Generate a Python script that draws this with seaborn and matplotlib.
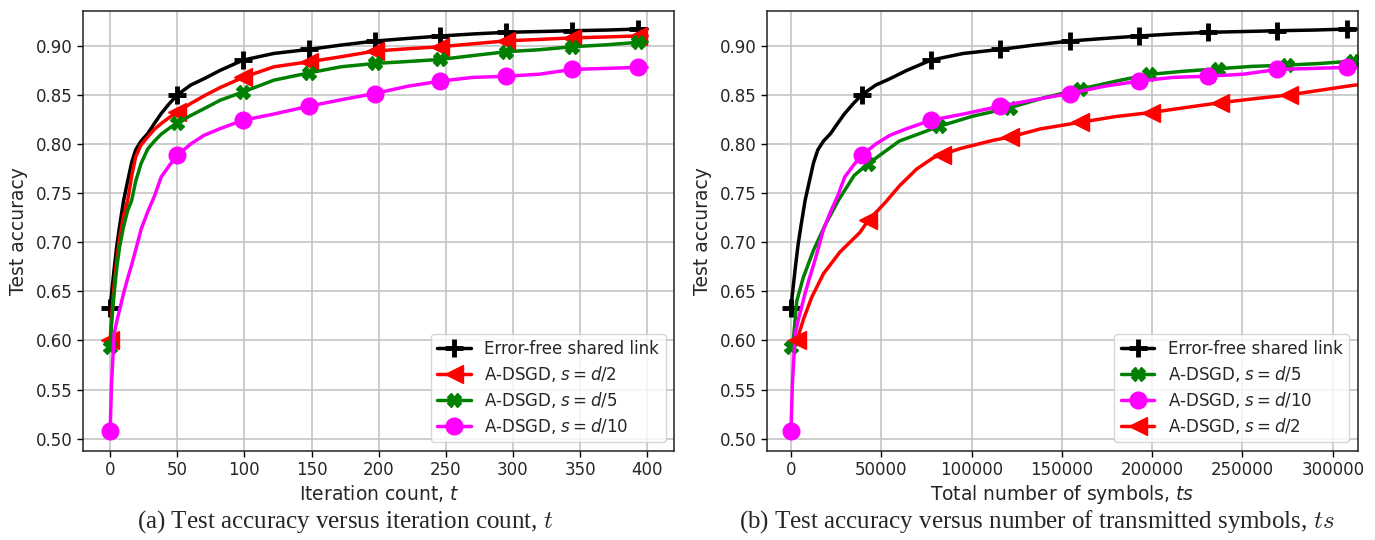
import matplotlib
matplotlib.use("Agg")
import matplotlib.pyplot as plt
import seaborn as sns

# ---------------- data ----------------
# left panel: iteration count t
t_iter = [0, 1, 2, 3, 5, 7, 10, 13, 16, 19, 23, 28, 33, 38, 44, 50, 60, 70, 82,
          99, 122, 148, 172, 197, 222, 246, 270, 295, 320, 344, 370, 393, 400]
t_markers = [0, 50, 99, 148, 197, 246, 295, 344, 393]

acc_err_free = [0.633, 0.647, 0.660, 0.673, 0.697, 0.716, 0.7425, 0.762, 0.781, 0.794,
                0.803, 0.8106, 0.821, 0.831, 0.841, 0.850, 0.860, 0.8665, 0.875,
                0.8854, 0.8922, 0.8963, 0.9007, 0.9048, 0.9075, 0.9099, 0.912, 0.9137,
                0.9145, 0.9153, 0.916, 0.917, 0.917]
acc_d2 = [0.600, 0.622, 0.640, 0.657, 0.683, 0.704, 0.727, 0.7425, 0.767, 0.787,
          0.799, 0.8072, 0.815, 0.8208, 0.827, 0.8325, 0.8412, 0.849, 0.8575,
          0.8678, 0.8786, 0.8837, 0.8888, 0.8946, 0.897, 0.899, 0.902, 0.905,
          0.9065, 0.908, 0.909, 0.910, 0.910]
acc_d5 = [0.593, 0.615, 0.633, 0.648, 0.675, 0.695, 0.716, 0.732, 0.7425, 0.762,
          0.780, 0.795, 0.803, 0.810, 0.816, 0.8214, 0.829, 0.836, 0.8446,
          0.853, 0.865, 0.8724, 0.8786, 0.882, 0.884, 0.8861, 0.890, 0.8939,
          0.896, 0.899, 0.901, 0.9035, 0.904]
acc_d10 = [0.508, 0.555, 0.582, 0.6065, 0.620, 0.631, 0.648, 0.663, 0.677, 0.692,
           0.713, 0.731, 0.747, 0.7663, 0.778, 0.7885, 0.800, 0.8089, 0.8157,
           0.8242, 0.8305, 0.8385, 0.845, 0.8514, 0.8589, 0.864, 0.8678, 0.869,
           0.8711, 0.8759, 0.877, 0.878, 0.878]

# right panel: total number of transmitted symbols ts
symbols_per_iter = 783   # error-free link and s = d/10 (same curves as left)
ts_d5 = [0, 1300, 3200, 6800, 12400, 18800, 26200, 35000, 42800, 60000, 82100,
         100000, 121300, 140000, 159800, 180000, 198200, 217000, 236500, 255000,
         274900, 293000, 311400, 318000]
acc_ts_d5 = [0.593, 0.600, 0.640, 0.664, 0.6915, 0.717, 0.7425, 0.768, 0.780, 0.803,
             0.818, 0.828, 0.837, 0.847, 0.8557, 0.864, 0.8708, 0.874, 0.8766,
             0.879, 0.8803, 0.882, 0.8844, 0.885]
ts_d5_markers = [0, 42800, 82100, 121300, 159800, 198200, 236500, 274900, 311400]

ts_d2 = [3300, 7000, 11500, 18000, 27100, 38200, 42800, 52000, 60400, 69600, 78800,
         83400, 93600, 112000, 121300, 137900, 159800, 180000, 199100, 218000,
         237500, 256000, 275800, 294000, 311500, 318000]
acc_ts_d2 = [0.600, 0.622, 0.644, 0.668, 0.690, 0.710, 0.7222, 0.740, 0.758, 0.7745,
             0.786, 0.789, 0.7953, 0.8038, 0.8071, 0.8153, 0.822, 0.828, 0.832,
             0.837, 0.842, 0.846, 0.850, 0.855, 0.8598, 0.861]
ts_d2_markers = [3300, 42800, 83400, 121300, 159800, 199100, 237500, 275800]

labels = {
    "ef": "Error-free shared link",
    "d2": r"A-DSGD, $s = d/2$",
    "d5": r"A-DSGD, $s = d/5$",
    "d10": r"A-DSGD, $s = d/10$",
}
captions = [r"(a) Test accuracy versus iteration count, $t$",
            r"(b) Test accuracy versus number of transmitted symbols, $ts$"]

# ---------------- styling ----------------
sns.set_style("ticks")
plt.rcParams["font.family"] = ["DejaVu Sans"]

styles = {
    "ef": dict(color="black", marker="+", markersize=13, markeredgewidth=3.5),
    "d2": dict(color="red", marker="<", markersize=13, markeredgewidth=1),
    "d5": dict(color="green", marker="X", markersize=10, markeredgewidth=1),
    "d10": dict(color="magenta", marker="o", markersize=12, markeredgewidth=1),
}


def draw(ax, x, y, key, marks):
    st = styles[key]
    idx = [i for i, v in enumerate(x) if v in set(marks)]
    sns.lineplot(x=x, y=y, ax=ax, color=st["color"], linewidth=2.5,
                 marker=st["marker"], markersize=st["markersize"],
                 markeredgewidth=st["markeredgewidth"],
                 markeredgecolor=st["color"], markerfacecolor=st["color"],
                 markevery=idx, label=labels[key], sort=False)


fig = plt.figure(figsize=(13.75, 5.4), dpi=100)
ax1 = fig.add_axes([83.3 / 1375, 1 - 450.7 / 540, 590.7 / 1375, 440 / 540])
ax2 = fig.add_axes([767.3 / 1375, 1 - 450.7 / 540, 590.4 / 1375, 440 / 540])

# left
draw(ax1, t_iter, acc_err_free, "ef", t_markers)
draw(ax1, t_iter, acc_d2, "d2", t_markers)
draw(ax1, t_iter, acc_d5, "d5", t_markers)
draw(ax1, t_iter, acc_d10, "d10", t_markers)

# right
ts_iter = [t * symbols_per_iter for t in t_iter]
ts_markers = [t * symbols_per_iter for t in t_markers]
draw(ax2, ts_iter, acc_err_free, "ef", ts_markers)
draw(ax2, ts_d5, acc_ts_d5, "d5", ts_d5_markers)
draw(ax2, ts_iter, acc_d10, "d10", ts_markers)
draw(ax2, ts_d2, acc_ts_d2, "d2", ts_d2_markers)

ax1.set_xlim(-20, 420)
ax2.set_xlim(-13100, 313800)
ax1.set_xticks([0, 50, 100, 150, 200, 250, 300, 350, 400])
ax2.set_xticks([0, 50000, 100000, 150000, 200000, 250000, 300000])
ax2.set_xticklabels(["0", "50000", "100000", "150000", "200000", "250000", "300000"])
yt = [0.50, 0.55, 0.60, 0.65, 0.70, 0.75, 0.80, 0.85, 0.90]
for ax, xl in ((ax1, r"Iteration count, $t$"), (ax2, r"Total number of symbols, $ts$")):
    ax.set_ylim(0.4878, 0.9357)
    ax.set_yticks(yt)
    ax.set_yticklabels([f"{v:.2f}" for v in yt])
    ax.grid(True, color="#c0c0c0", linewidth=1.1)
    ax.set_axisbelow(True)
    ax.tick_params(labelsize=12, length=4, width=1, color="black")
    ax.set_xlabel(xl, fontsize=13.5, labelpad=3)
    ax.set_ylabel("Test accuracy", fontsize=13.5, labelpad=6)
    for sp in ax.spines.values():
        sp.set_visible(True)
        sp.set_color("#222222")
        sp.set_linewidth(1.1)
    ax.legend(loc="lower right", fontsize=12, frameon=True, framealpha=0.8,
              edgecolor="#cccccc", handlelength=2.0, borderpad=0.4,
              labelspacing=0.35, borderaxespad=0.5)

fig.text(345 / 1375, 1 - 522 / 540, captions[0], ha="center", va="center",
         fontsize=18, family="Liberation Serif", math_fontfamily="cm")
fig.text(1037 / 1375, 1 - 522 / 540, captions[1], ha="center", va="center",
         fontsize=18, family="Liberation Serif", math_fontfamily="cm")

fig.savefig("out.png", dpi=100)
